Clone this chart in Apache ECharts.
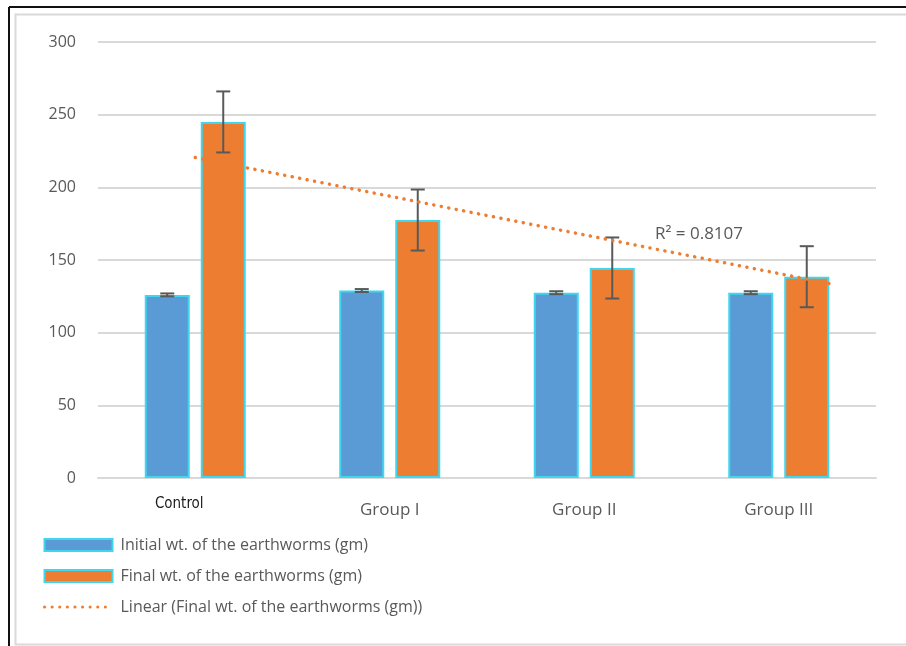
<!DOCTYPE html>
<html>
<head>
<meta charset="utf-8">
<script src="https://cdn.jsdelivr.net/npm/echarts@6/dist/echarts.min.js"></script>
<style>
html,body{margin:0;padding:0;background:#fff;}
#chart{width:906px;height:646px;}
</style>
</head>
<body>
<div id="chart"></div>
<script>
var categories = ['Control', 'Group I', 'Group II', 'Group III'];
var initialWt = [126, 129, 127.5, 127.5];
var initialErr = [1, 1, 1, 1];
var finalWt = [245, 177.5, 144.5, 138.5];
var finalErr = [21, 21, 21, 21];
var trendPoints = [[1.0, 220.5], [4.27, 133.5]];
var yTicks = {min: 0, max: 300, interval: 50};
var r2Text = 'R² = 0.8107';

var seriesNames = ['Initial wt. of the earthworms (gm)', 'Final wt. of the earthworms (gm)', 'Linear (Final wt. of the earthworms (gm))'];

var BAR_W = 45, BAR_GAP = 11;
var textColor = '#595959';
var font = 'Open Sans, Noto Sans, sans-serif';

function errRender(offsetSign, vals, errs) {
  return function (params, api) {
    var i = api.value(0);
    var v = vals[i], e = errs[i];
    var c = api.coord([i, v]);
    var x = c[0] + offsetSign * (BAR_W + BAR_GAP) / 2;
    var top = api.coord([i, v + e])[1];
    var bot = api.coord([i, v - e])[1];
    var cap = 7;
    var st = {stroke: '#595959', lineWidth: 2};
    return {
      type: 'group',
      children: [
        {type: 'line', shape: {x1: x, y1: top, x2: x, y2: bot}, style: st},
        {type: 'line', shape: {x1: x - cap, y1: top, x2: x + cap, y2: top}, style: st},
        {type: 'line', shape: {x1: x - cap, y1: bot, x2: x + cap, y2: bot}, style: st}
      ]
    };
  };
}

var chart = echarts.init(document.getElementById('chart'));
chart.setOption({
  animation: false,
  backgroundColor: '#fff',
  grid: {left: 98, right: 30, top: 42, bottom: 168},
  xAxis: [{
    type: 'category',
    data: categories,
    axisLine: {lineStyle: {color: '#d9d9d9', width: 2}},
    axisTick: {show: false},
    axisLabel: {
      margin: 19,
      formatter: function (v) { return v === 'Control' ? '{c|' + v + '}' : '{g|' + v + '}'; },
      rich: {
        c: {fontFamily: 'Liberation Sans Narrow, DejaVu Sans Condensed, sans-serif', fontSize: 15, color: '#1a1a1a', padding: [0, 32, 0, 0]},
        g: {fontFamily: font, fontSize: 17, color: textColor, padding: [5, 0, 0, 0]}
      }
    }
  }, {
    type: 'value', min: 0.5, max: 4.5, show: false
  }],
  yAxis: {
    type: 'value', min: yTicks.min, max: yTicks.max, interval: yTicks.interval,
    axisLine: {show: false}, axisTick: {show: false},
    axisLabel: {color: textColor, fontSize: 16, fontFamily: font, margin: 22},
    splitLine: {lineStyle: {color: '#d9d9d9', width: 2}}
  },
  legend: {
    orient: 'vertical', left: 38, top: 532,
    itemWidth: 68, itemHeight: 12, itemGap: 15,
    textStyle: {color: textColor, fontSize: 16, fontFamily: font, padding: [0, 0, 0, 3]},
    data: [
      {name: seriesNames[0], icon: 'rect'},
      {name: seriesNames[1], icon: 'rect'},
      {name: seriesNames[2], itemStyle: {opacity: 0}, lineStyle: {width: 3, type: [0.1, 7.5], cap: 'round', color: '#ed7d31'}}
    ]
  },
  series: [
    {
      name: seriesNames[0], type: 'bar', data: initialWt, barWidth: BAR_W, barGap: (BAR_GAP / BAR_W * 100) + '%',
      itemStyle: {color: '#5b9bd5', borderColor: '#3fd6ef', borderWidth: 2}
    },
    {
      name: seriesNames[1], type: 'bar', data: finalWt, barWidth: BAR_W,
      itemStyle: {color: '#ed7d31', borderColor: '#3fd6ef', borderWidth: 2}
    },
    {
      type: 'custom', renderItem: errRender(-1, initialWt, initialErr),
      data: categories.map(function (c, i) { return [i]; }), z: 5, silent: true
    },
    {
      type: 'custom', renderItem: errRender(1, finalWt, finalErr),
      data: categories.map(function (c, i) { return [i]; }), z: 5, silent: true
    },
    {
      name: seriesNames[2], type: 'line', xAxisIndex: 1, data: trendPoints,
      symbol: 'none', showSymbol: false, z: 6,
      lineStyle: {color: '#ed7d31', width: 3.5, type: [0.1, 7.5], cap: 'round'},
      itemStyle: {color: '#ed7d31'}
    }
  ],
  graphic: [
    {type: 'rect', left: 13, top: 12, shape: {width: 893, height: 630}, style: {fill: 'none', stroke: '#d9d9d9', lineWidth: 2}, z: -1},
    {type: 'line', shape: {x1: 9, y1: 7, x2: 906, y2: 7}, style: {stroke: '#111', lineWidth: 2}},
    {type: 'line', shape: {x1: 9, y1: 7, x2: 9, y2: 646}, style: {stroke: '#111', lineWidth: 2}},
    {type: 'text', left: 655, top: 226, style: {text: r2Text, fill: textColor, fontSize: 17, fontFamily: font}}
  ]
});
</script>
</body>
</html>
